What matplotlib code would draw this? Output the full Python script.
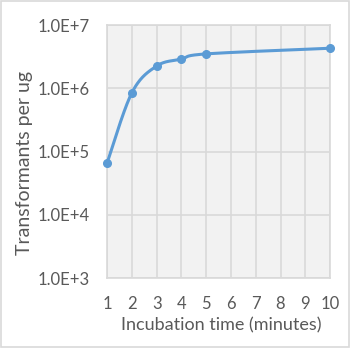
import numpy as np
import matplotlib.pyplot as plt
from matplotlib.patches import Rectangle
from matplotlib.ticker import FuncFormatter, FixedLocator

# incubation time (minutes) vs transformation efficiency
minutes = [1, 2, 3, 4, 5, 10]
transformants = [6.6e4, 8.5e5, 2.25e6, 2.9e6, 3.5e6, 4.3e6]

x_ticks = list(range(1, 11))
y_ticks = [1e3, 1e4, 1e5, 1e6, 1e7]

LINE = '#5B9BD5'
GRID = '#D9D9D9'
TEXT = '#595959'

plt.rcParams['font.family'] = ['Lato', 'DejaVu Sans']


def smooth_curve(xs, ys, aspect, n=40):
    """Catmull-Rom spline through the points, computed in a screen-like space."""
    px = np.asarray(xs, float)
    py = np.log10(ys) * aspect
    pts = np.column_stack([px, py])
    pts = np.vstack([pts[0], pts, pts[-1]])
    out = []
    for i in range(1, len(pts) - 2):
        p0, p1, p2, p3 = pts[i - 1], pts[i], pts[i + 1], pts[i + 2]
        t = np.linspace(0, 1, n)[:, None]
        seg = 0.5 * ((2 * p1) + (-p0 + p2) * t
                     + (2 * p0 - 5 * p1 + 4 * p2 - p3) * t ** 2
                     + (-p0 + 3 * p1 - 3 * p2 + p3) * t ** 3)
        out.append(seg)
    out = np.vstack(out)
    return out[:, 0], 10 ** (out[:, 1] / aspect)


fig = plt.figure(figsize=(3.5, 3.48), dpi=100)
fig.patches.append(Rectangle((0.004, 0.004), 0.992, 0.992, transform=fig.transFigure,
                             fill=False, edgecolor=GRID, linewidth=1.2))

ax = fig.add_axes([0.306, 0.201, 0.637, 0.727])
ax.set_facecolor('#F2F2F2')
ax.set_yscale('log')
ax.set_xlim(1, 10)
ax.set_ylim(1e3, 1e7)

ax.xaxis.set_major_locator(FixedLocator(x_ticks))
ax.yaxis.set_major_locator(FixedLocator(y_ticks))
ax.yaxis.set_minor_locator(FixedLocator([]))
ax.yaxis.set_major_formatter(FuncFormatter(lambda v, _: '%.1fE+%d' % (1.0, round(np.log10(v)))))

ax.grid(True, color=GRID, linewidth=1.2)
ax.set_axisbelow(True)
for s in ax.spines.values():
    s.set_color(GRID)
    s.set_linewidth(1.2)
ax.tick_params(length=0, labelsize=12, colors=TEXT)
ax.tick_params(axis='x', pad=13)
ax.tick_params(axis='y', pad=12.5)

sx, sy = smooth_curve(minutes, transformants, 2.55)
ax.plot(sx, sy, color=LINE, linewidth=2.2, solid_capstyle='round', clip_on=False, zorder=3)
ax.plot(minutes, transformants, 'o', color=LINE, markersize=5.5, clip_on=False, zorder=4)

ax.set_xlabel('Incubation time (minutes)', fontsize=13, color=TEXT)
ax.set_ylabel('Transformants per ug', fontsize=14, color=TEXT)
ax.xaxis.set_label_coords(0.514, -0.154)
ax.yaxis.set_label_coords(-0.332, 0.455)

fig.savefig('out.png', dpi=100)
